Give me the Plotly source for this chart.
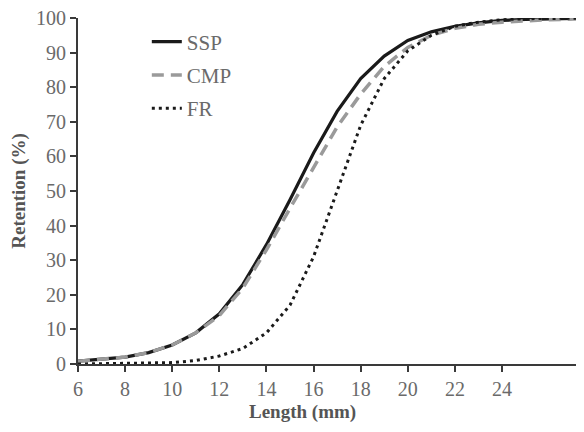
import plotly.graph_objects as go

# Retention curves
length_mm = [6, 7, 8, 9, 10, 11, 12, 13, 14, 15, 16, 17, 18, 19, 20, 21, 22, 23, 24, 25, 26, 27, 28]
ssp = [0.8, 1.3, 2.0, 3.3, 5.5, 9.0, 14.5, 23.0, 34.5, 47.5, 61.0, 73.0, 82.5, 89.0, 93.5, 96.0, 97.6, 98.6, 99.3, 99.6, 99.8, 99.9, 100.0]
cmp_ = [0.8, 1.3, 2.0, 3.3, 5.5, 9.0, 14.0, 22.0, 33.0, 45.0, 57.0, 68.5, 78.0, 86.0, 91.5, 95.0, 97.0, 98.2, 98.8, 99.2, 99.5, 99.7, 99.8]
fr = [0.0, 0.05, 0.1, 0.2, 0.4, 1.0, 2.3, 4.5, 9.0, 17.0, 31.0, 50.0, 69.0, 82.5, 90.5, 95.0, 97.6, 98.8, 99.5, 99.8, 99.9, 100.0, 100.0]
x_ticks = list(range(6, 26, 2))

FONT = "Liberation Serif, Times New Roman, serif"
GREY = "#6a6a6a"
AXIS = "#3a3a3a"

fig = go.Figure()
fig.add_trace(go.Scatter(x=length_mm, y=ssp, mode="lines", name="SSP", legendgroup="a",
                         line=dict(color="#1a1a1a", width=3.2)))
fig.add_trace(go.Scatter(x=length_mm, y=cmp_, mode="lines", name="CMP", legendgroup="b",
                         line=dict(color="#9a9a9a", width=3.5, dash="12px,7px")))
fig.add_trace(go.Scatter(x=length_mm, y=fr, mode="lines", name="FR", legendgroup="c",
                         line=dict(color="#1a1a1a", width=3, dash="3px,4px")))

# body margin of the page is 8px, so the figure is sized to fit inside the window
fig.update_layout(
    width=576,
    height=424,
    margin=dict(l=70, r=0, t=10, b=68),
    paper_bgcolor="white",
    plot_bgcolor="white",
    font=dict(family=FONT, size=20, color=GREY),
    legend=dict(x=0.136, y=0.99, xanchor="left", yanchor="top",
                bgcolor="rgba(0,0,0,0)", tracegroupgap=3,
                font=dict(size=21, color=GREY)),
    xaxis=dict(
        range=[6, 27.48], tickvals=x_ticks,
        showgrid=False, zeroline=False, showline=True, linecolor=AXIS, linewidth=2,
        ticks="outside", ticklen=6, tickwidth=1.5, tickcolor=AXIS,
        ticklabeloverflow="allow",
    ),
    yaxis=dict(
        range=[0, 100], dtick=10,
        showgrid=False, zeroline=False, showline=True, linecolor=AXIS, linewidth=2,
        ticks="outside", ticklen=6, tickwidth=1.5, tickcolor=AXIS,
        ticklabeloverflow="allow",
        title=dict(text="<b>Retention (%)</b>", font=dict(size=19, color="#555555"), standoff=15),
    ),
    annotations=[dict(
        text="<b>Length (mm)</b>", xref="paper", yref="paper", x=0.443, y=0,
        xanchor="center", yanchor="middle", yshift=-48, showarrow=False,
        font=dict(size=19, color="#555555"),
    )],
)

fig.write_html("out.html")
